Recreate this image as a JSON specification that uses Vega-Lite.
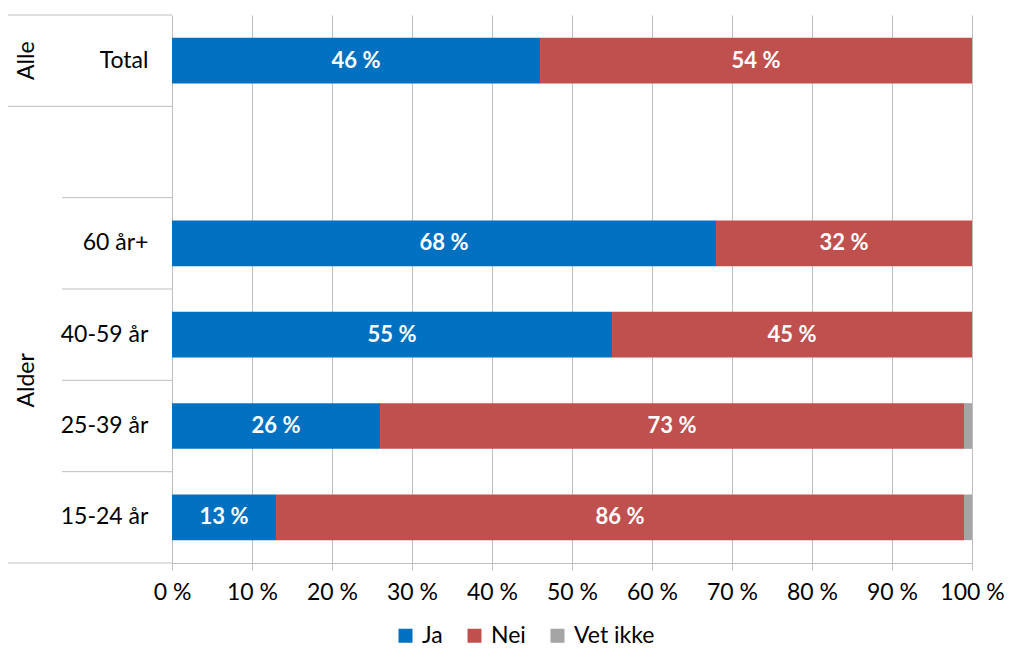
{
  "$schema": "https://vega.github.io/schema/vega-lite/v6.json",
  "padding": {"left": 7, "top": 14, "right": 0, "bottom": 0},
  "spacing": 0,
  "bounds": "flush",
  "config": {"font": "Lato", "view": {"stroke": null}, "concat": {"spacing": 0}},
  "datasets": {
    "answers": [
      {"cat": "Total", "answer": "Ja", "ord": 1, "value": 46},
      {"cat": "Total", "answer": "Nei", "ord": 2, "value": 54},
      {"cat": "60 år+", "answer": "Ja", "ord": 1, "value": 68},
      {"cat": "60 år+", "answer": "Nei", "ord": 2, "value": 32},
      {"cat": "40-59 år", "answer": "Ja", "ord": 1, "value": 55},
      {"cat": "40-59 år", "answer": "Nei", "ord": 2, "value": 45},
      {"cat": "25-39 år", "answer": "Ja", "ord": 1, "value": 26},
      {"cat": "25-39 år", "answer": "Nei", "ord": 2, "value": 73},
      {"cat": "25-39 år", "answer": "Vet ikke", "ord": 3, "value": 1},
      {"cat": "15-24 år", "answer": "Ja", "ord": 1, "value": 13},
      {"cat": "15-24 år", "answer": "Nei", "ord": 2, "value": 86},
      {"cat": "15-24 år", "answer": "Vet ikke", "ord": 3, "value": 1}
    ],
    "rows": [
      {"cat": "Total", "group": "Alle"},
      {"cat": " ", "group": "Alder"},
      {"cat": "60 år+", "group": "Alder"},
      {"cat": "40-59 år", "group": "Alder"},
      {"cat": "25-39 år", "group": "Alder"},
      {"cat": "15-24 år", "group": "Alder"}
    ],
    "groups": [
      {"cat": "Total", "label": "Alle", "pos": "mid"},
      {"cat": "40-59 år", "label": "Alder", "pos": "end"}
    ]
  },
  "hconcat": [
    {
      "width": 54,
      "height": 548,
      "layer": [
        {
          "data": {"name": "rows"},
          "transform": [{"filter": "datum.cat == 'Total' || datum.cat == ' '"}],
          "mark": {"type": "rule", "color": "#bfbfbf", "strokeWidth": 1},
          "encoding": {
            "y": {"field": "cat", "type": "nominal", "bandPosition": 0, "axis": null,
              "scale": {"type": "band", "domain": ["Total", " ", "60 år+", "40-59 år", "25-39 år", "15-24 år"], "paddingInner": 0, "paddingOuter": 0}}
          }
        },
        {
          "data": {"name": "rows"},
          "transform": [{"filter": "datum.cat == '15-24 år'"}],
          "mark": {"type": "rule", "color": "#bfbfbf", "strokeWidth": 1},
          "encoding": {
            "y": {"field": "cat", "type": "nominal", "bandPosition": 1, "axis": null}
          }
        },
        {
          "data": {"name": "groups"},
          "transform": [{"filter": "datum.pos == 'mid'"}],
          "mark": {"type": "text", "angle": 270, "align": "center", "baseline": "middle", "fontSize": 23, "color": "black"},
          "encoding": {
            "y": {"field": "cat", "type": "nominal", "bandPosition": 0.5, "axis": null},
            "x": {"datum": 0.35, "type": "quantitative", "scale": {"domain": [0, 1]}, "axis": null},
            "text": {"field": "label"}
          }
        },
        {
          "data": {"name": "groups"},
          "transform": [{"filter": "datum.pos == 'end'"}],
          "mark": {"type": "text", "angle": 270, "align": "center", "baseline": "middle", "fontSize": 23, "color": "black"},
          "encoding": {
            "y": {"field": "cat", "type": "nominal", "bandPosition": 1, "axis": null},
            "x": {"datum": 0.35, "type": "quantitative", "axis": null},
            "text": {"field": "label"}
          }
        }
      ]
    },
    {
      "width": 110,
      "height": 548,
      "layer": [
        {
          "data": {"name": "rows"},
          "mark": {"type": "rule", "color": "#bfbfbf", "strokeWidth": 1},
          "encoding": {
            "y": {"field": "cat", "type": "nominal", "bandPosition": 0, "axis": null,
              "scale": {"type": "band", "domain": ["Total", " ", "60 år+", "40-59 år", "25-39 år", "15-24 år"], "paddingInner": 0, "paddingOuter": 0}}
          }
        },
        {
          "data": {"name": "rows"},
          "transform": [{"filter": "datum.cat == '15-24 år'"}],
          "mark": {"type": "rule", "color": "#bfbfbf", "strokeWidth": 1},
          "encoding": {
            "y": {"field": "cat", "type": "nominal", "bandPosition": 1, "axis": null}
          }
        },
        {
          "data": {"name": "rows"},
          "transform": [{"filter": "datum.cat != ' '"}],
          "mark": {"type": "text", "align": "right", "baseline": "middle", "fontSize": 23, "color": "black"},
          "encoding": {
            "y": {"field": "cat", "type": "nominal", "bandPosition": 0.5, "axis": null},
            "x": {"datum": 0.785, "type": "quantitative", "scale": {"domain": [0, 1]}, "axis": null},
            "text": {"field": "cat"}
          }
        }
      ]
    },
    {
      "width": 800,
      "height": 548,
      "data": {"name": "answers"},
      "transform": [{"calculate": "datum.value + ' %'", "as": "label"}],
      "encoding": {
        "y": {
          "field": "cat", "type": "nominal", "title": null, "axis": null,
          "scale": {"domain": ["Total", " ", "60 år+", "40-59 år", "25-39 år", "15-24 år"], "paddingInner": 0.5, "paddingOuter": 0.25}
        }
      },
      "layer": [
        {
          "mark": {"type": "bar"},
          "encoding": {
            "x": {
              "field": "value", "type": "quantitative", "stack": "zero", "title": null,
              "scale": {"domain": [0, 100]},
              "axis": {"values": [0, 10, 20, 30, 40, 50, 60, 70, 80, 90, 100], "labelExpr": "datum.value + ' %'", "labelOverlap": false, "labelFlush": false, "grid": true, "gridColor": "#bfbfbf", "tickSize": 7, "tickColor": "#bfbfbf", "domainColor": "#bfbfbf", "labelFontSize": 23, "labelColor": "black", "labelPadding": 11, "labelFont": "Lato"}
            },
            "color": {
              "field": "answer", "type": "nominal",
              "scale": {"domain": ["Ja", "Nei", "Vet ikke"], "range": ["#0070C0", "#C0504D", "#A5A5A5"]},
              "legend": {"orient": "none", "legendX": 386, "legendY": 609, "direction": "horizontal", "title": null, "symbolType": "square", "symbolSize": 196, "symbolStrokeWidth": 0, "labelFontSize": 23, "labelColor": "black", "labelFont": "Lato", "labelOffset": 5, "columnPadding": 20}
            },
            "order": {"field": "ord"}
          }
        },
        {
          "transform": [{"filter": "datum.value >= 5"}],
          "mark": {"type": "text", "color": "white", "fontWeight": "bold", "fontSize": 22, "baseline": "middle", "align": "center"},
          "encoding": {
            "x": {"field": "value", "type": "quantitative", "stack": "zero", "bandPosition": 0.5},
            "detail": {"field": "answer"},
            "order": {"field": "ord"},
            "text": {"field": "label"}
          }
        }
      ]
    }
  ]
}
